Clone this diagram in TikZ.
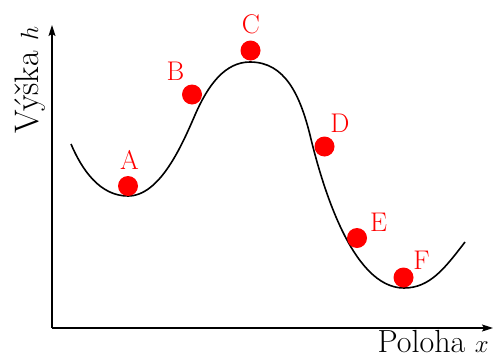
\documentclass[tikz,border=0pt]{standalone}
\usetikzlibrary{arrows.meta}
\begin{document}
\begin{tikzpicture}[x=1pt,y=-1pt,
  axis/.style={line width=1.2pt,-{Stealth[length=11pt,width=7pt,inset=2pt]}},
  ball/.style={circle,fill=red,draw=none,minimum size=20pt,inner sep=0pt},
  blabel/.style={text=red,font=\fontsize{27}{27}\selectfont,anchor=base,inner sep=0pt},
  alabel/.style={font=\fontsize{32}{32}\selectfont,inner sep=0pt},
  curveline/.style={line width=1.6pt}]
\useasboundingbox (0,0) rectangle (494,356);
\coordinate (O) at (52,328);
\coordinate (Ytip) at (52,25);
\coordinate (Xtip) at (493,328);
\draw[axis] (O) -- (Ytip);
\draw[axis] (O) -- (Xtip);
\node[alabel,anchor=base east] (xl) at (489,352) {Poloha $x$};
\node[alabel,font=\fontsize{34}{34}\selectfont,rotate=90,anchor=base] (yl) at (38,80) {Výška $h$};
\draw[curveline] (71,144) .. controls (82,170) and (100,196) .. (128,196)
  .. controls (160,196) and (182,145) .. (195,115)
  .. controls (208,85) and (225,62) .. (250,62)
  .. controls (285,62) and (300,95) .. (310,135)
  .. controls (322,185) and (352,288) .. (404,288)
  .. controls (430,288) and (445,268) .. (465,242);
\node[ball] (a) at (128,186) {};
\node[ball] (b) at (192,94.5) {};
\node[ball] (c) at (250.5,50.5) {};
\node[ball] (d) at (324.5,146.5) {};
\node[ball] (e) at (357,238) {};
\node[ball] (f) at (403.5,277.5) {};
\node[blabel] (la) at (129.5,169) {A};
\node[blabel] (lb) at (175.5,80) {B};
\node[blabel] (lc) at (251,33) {C};
\node[blabel] (ld) at (340,132) {D};
\node[blabel] (le) at (378.5,231) {E};
\node[blabel] (lf) at (421.5,269) {F};
\end{tikzpicture}
\end{document}
